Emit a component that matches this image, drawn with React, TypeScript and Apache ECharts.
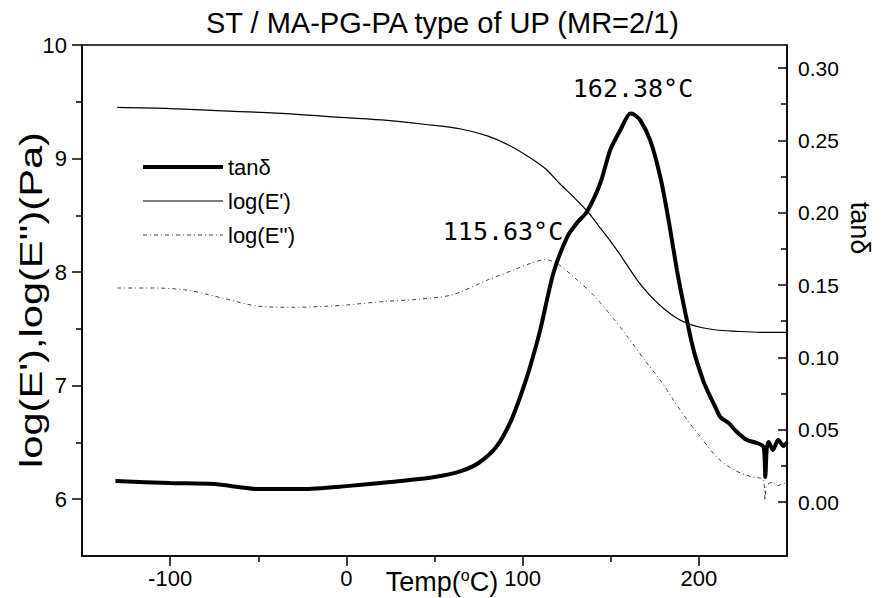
import React, { useEffect, useRef } from 'react';
import * as echarts from 'echarts';

// ---- data ----
const tanTemps = [-131, -100, -75, -50, -25, 0, 25, 50, 65, 75, 85, 93, 99, 104, 110, 117.4, 125.2, 130.9, 136.5, 144.1, 149.7, 155.4, 161.1, 163, 166.7, 172.4, 178.1, 182.8, 187.6, 192, 197, 202.7, 205.5, 209.3, 212.2, 216.9, 221.6, 227.3, 233, 236.7, 237.7, 238.5, 239.6, 242, 245, 248, 250];
const tanValues = [0.0145, 0.0131, 0.0124, 0.009, 0.009, 0.011, 0.0138, 0.0173, 0.0214, 0.027, 0.038, 0.055, 0.074, 0.0926, 0.119, 0.158, 0.183, 0.193, 0.2006, 0.2205, 0.2433, 0.257, 0.2686, 0.268, 0.264, 0.25, 0.2248, 0.195, 0.16, 0.1327, 0.105, 0.083, 0.0753, 0.0657, 0.0587, 0.0546, 0.0484, 0.0428, 0.0408, 0.038, 0.0173, 0.037, 0.0415, 0.036, 0.043, 0.0387, 0.0415];

const e1Temps = [-130, -100, -70, -40, -10, 20, 45, 65, 80, 92, 104, 113, 121, 129, 137, 143, 148, 155, 165, 172, 180, 188, 195, 202, 210, 220, 235, 250];
const e1Values = [9.45, 9.44, 9.42, 9.4, 9.37, 9.34, 9.3, 9.26, 9.2, 9.12, 9.01, 8.91, 8.78, 8.66, 8.53, 8.41, 8.31, 8.16, 7.93, 7.8, 7.68, 7.59, 7.54, 7.51, 7.49, 7.48, 7.47, 7.47];

const e2Temps = [-130, -110, -90, -70, -50, -30, -10, 0, 20, 40, 60, 80, 95, 105, 113, 120, 128.8, 140, 150, 160, 170, 179, 185.7, 193.3, 200.8, 210.3, 219.7, 229.2, 236.7, 237.5, 238.5, 242, 245, 248, 250];
const e2Values = [7.86, 7.86, 7.84, 7.77, 7.7, 7.69, 7.7, 7.71, 7.74, 7.76, 7.8, 7.93, 8.02, 8.08, 8.11, 8.07, 7.96, 7.8, 7.62, 7.42, 7.21, 7.03, 6.87, 6.7, 6.55, 6.37, 6.26, 6.2, 6.17, 5.99, 6.12, 6.15, 6.12, 6.14, 6.13];

const xMajorTicks = [-100, 0, 100, 200];
const xMinorTicks = [-50, 50, 150];
const leftMajorTicks = [6, 7, 8, 9, 10];
const leftMinorTicks = [6.5, 7.5, 8.5, 9.5];
const rightMajorTicks = [0, 0.05, 0.1, 0.15, 0.2, 0.25, 0.3];
const rightMinorTicks = [0.025, 0.075, 0.125, 0.175, 0.225, 0.275];

const seriesNames = ['tanδ', "log(E')", "log(E'')"];
const peakLabels = ['162.38°C', '115.63°C'];

const zip = (xs: number[], ys: number[]) => xs.map((x, i) => [x, ys[i]]);

const FONT = '"Liberation Sans", Arial, sans-serif';
const MONO = '"DejaVu Sans Mono", "Liberation Mono", monospace';

export default function App() {
  const ref = useRef<HTMLDivElement>(null);
  useEffect(() => {
    document.body.style.margin = '0';
    if (!ref.current) return;
    const chart = echarts.init(ref.current, undefined, { renderer: 'svg' });
    const black = '#000';
    const tickStyle = { color: black, width: 1.5 };
    const axisCommon = {
      type: 'value' as const,
      splitLine: { show: false },
    };
    const lineStyles = [
      { color: black, width: 4 },
      { color: black, width: 1.2 },
      { color: '#444', width: 1, type: [4, 3, 1, 3] },
    ];
    chart.setOption({
      animation: false,
      backgroundColor: '#fff',
      title: {
        text: 'ST / MA-PG-PA type of UP (MR=2/1)',
        left: 'center',
        top: 3,
        textStyle: { fontSize: 29, fontWeight: 'normal', color: black, fontFamily: FONT },
      },
      grid: { left: 82, right: 98, top: 45, bottom: 42, show: true, borderColor: black, borderWidth: 1.5, backgroundColor: 'transparent' },
      legend: {
        data: seriesNames.map((name, i) => ({ name, lineStyle: lineStyles[i] })),
        orient: 'vertical',
        left: 136,
        top: 151,
        itemWidth: 80,
        itemHeight: 14,
        itemGap: 12,
        itemStyle: { opacity: 0 },
        textStyle: { fontSize: 22, color: black, fontFamily: FONT },
      },
      xAxis: [
        {
          ...axisCommon,
          min: -150,
          max: 250,
          position: 'bottom',
          axisLine: { show: true, onZero: false, lineStyle: tickStyle },
          axisTick: { show: true, customValues: xMajorTicks, length: 10, lineStyle: tickStyle },
          axisLabel: { show: true, customValues: xMajorTicks, fontSize: 22, color: black, margin: 11, fontFamily: FONT },
        },
        {
          ...axisCommon,
          min: -150,
          max: 250,
          position: 'bottom',
          axisLine: { show: false, onZero: false },
          axisTick: { show: true, customValues: xMinorTicks, length: 6, lineStyle: tickStyle },
          axisLabel: { show: false },
        },
      ],
      yAxis: [
        {
          ...axisCommon,
          min: 5.5,
          max: 10,
          position: 'left',
          axisLine: { show: true, onZero: false, lineStyle: tickStyle },
          axisTick: { show: true, customValues: leftMajorTicks, length: 10, lineStyle: tickStyle },
          axisLabel: { show: true, customValues: leftMajorTicks, fontSize: 22, color: black, margin: 15, fontFamily: FONT },
        },
        {
          ...axisCommon,
          min: 5.5,
          max: 10,
          position: 'left',
          axisLine: { show: false, onZero: false },
          axisTick: { show: true, customValues: leftMinorTicks, length: 6, lineStyle: tickStyle },
          axisLabel: { show: false },
        },
        {
          ...axisCommon,
          min: -0.0373,
          max: 0.3159,
          position: 'right',
          axisLine: { show: true, onZero: false, lineStyle: tickStyle },
          axisTick: { show: true, inside: true, customValues: rightMajorTicks, length: 9, lineStyle: tickStyle },
          axisLabel: {
            show: true,
            customValues: rightMajorTicks,
            fontSize: 21,
            color: black,
            margin: 11,
            fontFamily: FONT,
            formatter: (v: number) => v.toFixed(2),
          },
        },
        {
          ...axisCommon,
          min: -0.0373,
          max: 0.3159,
          position: 'right',
          axisLine: { show: false, onZero: false },
          axisTick: { show: true, inside: true, customValues: rightMinorTicks, length: 6, lineStyle: tickStyle },
          axisLabel: { show: false },
        },
      ],
      series: [
        {
          name: seriesNames[0],
          type: 'line',
          yAxisIndex: 2,
          data: zip(tanTemps, tanValues),
          symbol: 'none',
          smooth: 0.25,
          lineStyle: lineStyles[0],
          itemStyle: { color: black },
          z: 3,
        },
        {
          name: seriesNames[1],
          type: 'line',
          yAxisIndex: 0,
          data: zip(e1Temps, e1Values),
          symbol: 'none',
          smooth: 0.3,
          lineStyle: lineStyles[1],
          itemStyle: { color: black },
          z: 2,
        },
        {
          name: seriesNames[2],
          type: 'line',
          yAxisIndex: 0,
          data: zip(e2Temps, e2Values),
          symbol: 'none',
          smooth: 0.3,
          lineStyle: lineStyles[2],
          itemStyle: { color: '#444' },
          z: 2,
        },
      ],
      graphic: [
        {
          type: 'text',
          x: 31,
          y: 300,
          rotation: Math.PI / 2,
          scaleX: 1.3,
          style: {
            text: "log(E'),log(E'')(Pa)",
            fontSize: 32,
            fontFamily: FONT,
            fill: black,
            textAlign: 'center',
            textVerticalAlign: 'middle',
          },
        },
        {
          type: 'text',
          x: 860,
          y: 228,
          rotation: -Math.PI / 2,
          style: {
            text: 'tanδ',
            fontSize: 27,
            fontFamily: FONT,
            fill: black,
            textAlign: 'center',
            textVerticalAlign: 'middle',
          },
        },
        {
          type: 'text',
          x: 442,
          y: 582,
          style: {
            text: '{a|Temp(}{s|o}{a|C)}',
            textAlign: 'center',
            textVerticalAlign: 'middle',
            rich: {
              a: { fontSize: 27, fontFamily: FONT, fill: black, lineHeight: 30 },
              s: { fontSize: 16, fontFamily: FONT, fill: black, verticalAlign: 'top', lineHeight: 30 },
            },
          },
        },
        {
          type: 'text',
          x: 633,
          y: 88,
          style: {
            text: peakLabels[0],
            fontSize: 25,
            fontFamily: MONO,
            fill: black,
            textAlign: 'center',
            textVerticalAlign: 'middle',
          },
        },
        {
          type: 'text',
          x: 503,
          y: 231,
          style: {
            text: peakLabels[1],
            fontSize: 25,
            fontFamily: MONO,
            fill: black,
            textAlign: 'center',
            textVerticalAlign: 'middle',
          },
        },
      ],
    });
    return () => chart.dispose();
  }, []);
  return <div ref={ref} style={{ width: 885, height: 598 }} />;
}
